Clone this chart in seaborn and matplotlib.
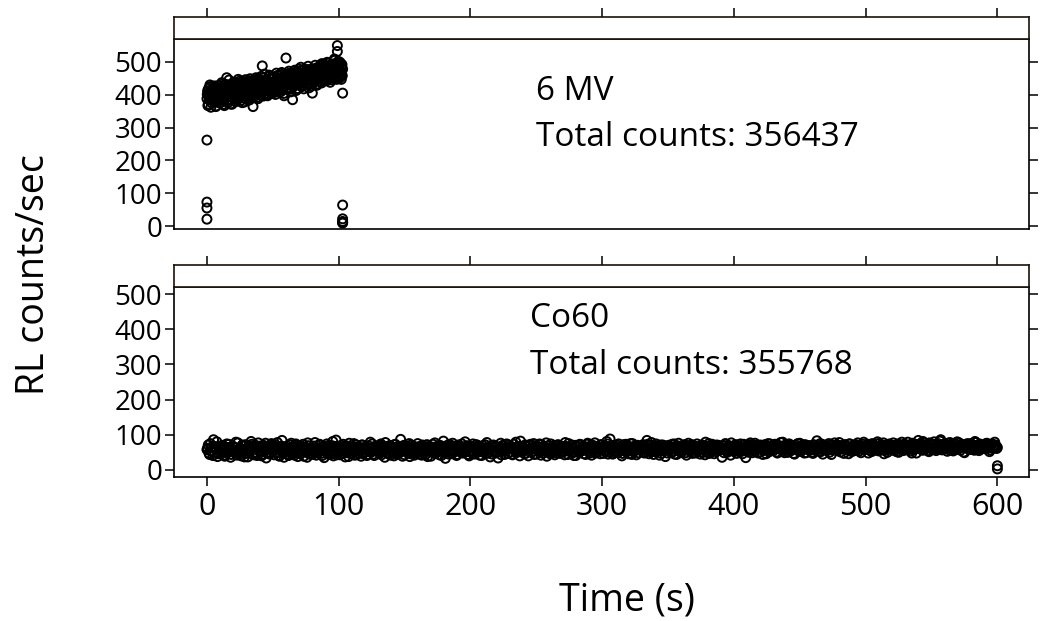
import numpy as np
import pandas as pd
import matplotlib
matplotlib.use("Agg")
import matplotlib.pyplot as plt
import seaborn as sns

# ---------------- data ----------------
DT = 0.5  # sampling interval (s) of each reading list

# 6 MV readings at t = 0, 0.5, 1.0, ...
rate_6mv = [
    388, 412, 371, 404, 396, 425, 362, 399, 417, 383,
    405, 378, 421, 394, 366, 410, 389, 428, 401, 375,
    396, 419, 384, 432, 407, 371, 398, 415, 388, 423,
    452, 394, 376, 411, 428, 402, 385, 419, 371, 436,
    405, 388, 427, 414, 379, 432, 399, 418, 391, 441,
    408, 426, 383, 413, 437, 396, 421, 378, 410, 429,
    402, 438, 415, 389, 426, 443, 407, 395, 431, 418,
    364, 412, 434, 401, 425, 447, 392, 419, 438, 406,
    421, 445, 398, 433, 488, 411, 427, 452, 403, 436,
    419, 441, 397, 428, 456, 412, 433, 405, 448, 424,
    437, 416, 452, 428, 401, 445, 431, 459, 414, 440,
    426, 451, 409, 438, 462, 421, 444, 397, 433, 456,
    512, 437, 421, 453, 442, 466, 418, 449, 431, 458,
    385, 444, 463, 428, 451, 437, 470, 419, 446, 459,
    441, 466, 427, 452, 474, 436, 459, 418, 448, 469,
    451, 432, 471, 445, 462, 421, 456, 478, 439, 464,
    405, 457, 473, 442, 466, 481, 448, 429, 469, 458,
    472, 447, 489, 458, 436, 476, 461, 493, 444, 468,
    459, 482, 443, 471, 496, 455, 476, 438, 487, 466,
    478, 452, 494, 469, 505, 461, 483, 447, 497, 472,
    488, 456, 499, 471, 447, 492, 478,
]
# 6 MV readings at t = 0.25, 0.75, 1.25, ...
rate_6mv_b = [
    401, 367, 419, 384, 430, 392, 409, 375, 414, 397,
    386, 427, 398, 364, 415, 403, 381, 422, 392, 411,
    413, 377, 437, 401, 389, 426, 367, 409, 432, 394,
    399, 422, 383, 445, 408, 372, 417, 430, 393, 412,
    424, 396, 381, 437, 409, 421, 386, 447, 403, 417,
    393, 433, 418, 376, 441, 405, 427, 389, 446, 412,
    426, 397, 433, 410, 384, 449, 418, 437, 402, 425,
    417, 441, 396, 428, 452, 409, 434, 388, 423, 446,
    434, 408, 456, 419, 441, 396, 429, 463, 414, 438,
    445, 422, 401, 437, 460, 418, 431, 450, 409, 439,
    428, 454, 407, 442, 419, 466, 433, 411, 448, 425,
    447, 414, 435, 468, 427, 452, 404, 441, 459, 430,
    438, 461, 415, 447, 472, 429, 453, 409, 444, 467,
    455, 426, 448, 475, 439, 413, 461, 446, 432, 478,
    462, 437, 484, 449, 425, 466, 453, 441, 479, 458,
    443, 469, 452, 487, 434, 461, 448, 473, 426, 465,
    476, 451, 438, 468, 490, 455, 471, 433, 462, 484,
    451, 479, 464, 440, 495, 457, 470, 448, 486, 462,
    475, 449, 499, 464, 481, 452, 470, 491, 446, 478,
    466, 488, 455, 509, 474, 449, 493, 481, 460, 502,
    470, 451, 495, 463, 485, 458,
]
extra_t_6mv = [0, 0, 0, 0, 99, 99, 103, 103, 103, 103, 103, 103]
extra_r_6mv = [262, 73, 55, 21, 550, 532, 405, 64, 22, 14, 11, 9]

# Co60 readings at t = 0, 1, 2, ...
rate_co60 = [
    58, 71, 44, 63, 52, 86, 49, 61, 38, 67,
    55, 47, 69, 60, 42, 74, 53, 64, 36, 58,
    66, 50, 79, 45, 57, 62, 40, 71, 54, 48,
    61, 37, 68, 56, 73, 46, 59, 65, 41, 77,
    52, 63, 44, 70, 55, 34, 67, 58, 49, 75,
    60, 43, 72, 51, 65, 39, 57, 84, 47, 62,
    54, 68, 41, 59, 76, 45, 63, 50, 70, 38,
    57, 66, 48, 73, 53, 61, 36, 69, 56, 44,
    64, 51, 78, 42, 60, 55, 71, 47, 67, 35,
    58, 74, 45, 63, 52, 69, 40, 61, 85, 49,
    56, 43, 70, 59, 65, 37, 62, 54, 76, 46,
    60, 67, 42, 72, 55, 48, 64, 39, 71, 57,
    50, 66, 44, 62, 79, 53, 59, 41, 68, 56,
    63, 47, 74, 51, 58, 36, 67, 61, 45, 70,
    54, 65, 40, 73, 57, 49, 62, 87, 52, 64,
    43, 69, 56, 60, 38, 71, 55, 66, 47, 59,
    75, 50, 63, 42, 68, 57, 44, 72, 53, 61,
    39, 65, 58, 77, 48, 62, 54, 70, 41, 66,
    56, 33, 64, 51, 73, 59, 46, 68, 55, 62,
    44, 71, 57, 49, 66, 60, 80, 52, 63, 40,
    67, 54, 74, 45, 61, 58, 69, 42, 65, 56,
    50, 72, 47, 63, 59, 37, 70, 55, 64, 48,
    66, 34, 60, 76, 53, 68, 44, 62, 57, 71,
    51, 65, 43, 73, 58, 49, 67, 61, 82, 54,
    63, 46, 70, 56, 40, 69, 59, 52, 75, 60,
    45, 66, 62, 53, 72, 48, 64, 57, 39, 68,
    58, 74, 50, 65, 43, 61, 70, 55, 47, 63,
    67, 52, 78, 59, 44, 64, 56, 71, 49, 60,
    41, 68, 57, 73, 54, 62, 46, 66, 58, 76,
    53, 64, 42, 70, 59, 48, 67, 61, 55, 72,
    62, 47, 69, 56, 74, 51, 88, 58, 45, 65,
    60, 71, 49, 63, 57, 40, 68, 54, 73, 59,
    46, 66, 61, 75, 52, 64, 43, 70, 58, 67,
    55, 72, 48, 62, 84, 57, 69, 51, 65, 44,
    61, 74, 53, 66, 59, 47, 71, 63, 38, 68,
    57, 64, 50, 73, 60, 45, 67, 56, 76, 62,
    49, 70, 58, 65, 42, 69, 61, 54, 72, 59,
    66, 48, 74, 57, 63, 51, 70, 60, 43, 67,
    58, 75, 52, 64, 69, 46, 62, 71, 55, 65,
    61, 36, 68, 57, 73, 50, 66, 59, 77, 54,
    63, 70, 47, 67, 58, 74, 53, 65, 60, 35,
    69, 56, 72, 62, 49, 66, 76, 58, 64, 51,
    71, 60, 44, 68, 63, 57, 75, 52, 67, 61,
    55, 73, 64, 48, 70, 59, 66, 79, 54, 62,
    68, 50, 74, 61, 57, 65, 45, 71, 63, 58,
    76, 53, 67, 60, 72, 49, 64, 69, 56, 62,
    47, 70, 61, 83, 58, 66, 52, 73, 63, 59,
    68, 55, 75, 62, 44, 69, 64, 57, 71, 60,
    78, 51, 66, 63, 72, 58, 67, 46, 74, 61,
    65, 70, 56, 62, 77, 53, 68, 60, 73, 64,
    59, 71, 48, 67, 63, 75, 57, 69, 62, 80,
    54, 66, 72, 60, 46, 70, 64, 58, 74, 65,
    61, 77, 55, 68, 63, 50, 71, 66, 59, 73,
    67, 57, 79, 62, 70, 48, 65, 74, 60, 69,
    84, 63, 71, 56, 68, 76, 61, 66, 52, 73,
    70, 64, 80, 59, 67, 75, 62, 86, 57, 69,
    65, 72, 53, 68, 78, 61, 70, 58, 74, 66,
    63, 77, 56, 71, 67, 49, 73, 64, 69, 60,
    75, 58, 68, 81, 62, 70, 55, 72, 66, 63,
    71, 60, 76, 65, 52, 69, 74, 62, 79, 67,
    64,
]
# Co60 readings at t = 0.5, 1.5, 2.5, ...
rate_co60_b = [
    62, 48, 75, 54, 41, 67, 59, 80, 46, 64,
    51, 70, 57, 39, 65, 49, 73, 60, 44, 68,
    56, 63, 42, 77, 52, 46, 69, 58, 37, 72,
    47, 64, 53, 81, 59, 43, 71, 50, 62, 55,
    68, 40, 60, 54, 76, 48, 63, 45, 70, 57,
    53, 66, 49, 78, 41, 59, 68, 52, 36, 65,
    61, 45, 72, 56, 50, 66, 42, 74, 58, 47,
    69, 52, 60, 39, 65, 57, 77, 46, 63, 54,
    45, 68, 55, 62, 48, 73, 58, 41, 66, 60,
    52, 63, 70, 44, 57, 81, 50, 67, 43, 59,
    66, 54, 47, 73, 61, 49, 68, 38, 62, 56,
    48, 75, 58, 43, 66, 60, 52, 71, 46, 64,
    63, 41, 69, 56, 50, 74, 45, 61, 57, 67,
    55, 70, 43, 64, 52, 78, 49, 59, 66, 42,
    61, 48, 72, 58, 44, 67, 55, 63, 39, 70,
    57, 64, 50, 75, 46, 60, 68, 42, 59, 53,
    66, 45, 58, 71, 49, 63, 56, 38, 67, 60,
    52, 73, 47, 61, 55, 69, 43, 64, 57, 82,
    49, 62, 70, 45, 58, 54, 76, 51, 65, 41,
    59, 67, 53, 74, 48, 62, 57, 69, 44, 63,
    55, 47, 66, 60, 72, 50, 64, 57, 41, 69,
    62, 53, 78, 48, 65, 59, 45, 71, 56, 66,
    50, 63, 57, 43, 70, 61, 55, 74, 47, 60,
    68, 45, 62, 56, 79, 52, 64, 40, 67, 58,
    54, 71, 48, 65, 59, 73, 51, 62, 44, 69,
    63, 56, 74, 42, 60, 67, 53, 77, 58, 50,
    46, 65, 59, 70, 55, 48, 72, 61, 66, 53,
    60, 43, 67, 57, 75, 62, 50, 64, 41, 70,
    65, 54, 49, 72, 60, 68, 56, 44, 73, 62,
    48, 69, 63, 55, 77, 51, 66, 58, 46, 71,
    57, 64, 52, 81, 45, 67, 60, 55, 70, 49,
    66, 53, 74, 58, 62, 47, 72, 64, 51, 68,
    59, 75, 44, 63, 56, 70, 61, 49, 67, 55,
    64, 50, 68, 59, 73, 46, 62, 78, 53, 66,
    52, 69, 57, 42, 71, 63, 55, 67, 60, 48,
    70, 58, 65, 51, 74, 62, 44, 68, 57, 63,
    55, 64, 72, 49, 60, 76, 53, 66, 47, 69,
    61, 54, 67, 59, 45, 71, 65, 56, 79, 50,
    68, 47, 63, 73, 57, 66, 52, 61, 70, 58,
    64, 59, 49, 75, 62, 55, 69, 42, 67, 60,
    57, 72, 61, 52, 68, 64, 46, 73, 59, 66,
    63, 50, 77, 58, 65, 54, 70, 61, 48, 69,
    59, 66, 55, 72, 46, 64, 60, 74, 57, 67,
    70, 62, 51, 68, 61, 78, 56, 65, 49, 72,
    58, 73, 64, 55, 69, 47, 66, 60, 75, 53,
    65, 59, 71, 48, 63, 70, 57, 67, 61, 50,
    72, 56, 64, 68, 53, 75, 60, 45, 69, 63,
    58, 66, 50, 73, 62, 57, 77, 64, 55, 70,
    61, 69, 59, 47, 71, 65, 56, 74, 63, 52,
    67, 55, 72, 64, 58, 68, 49, 66, 79, 60,
    64, 73, 57, 69, 52, 66, 71, 61, 56, 75,
    68, 59, 63, 77, 55, 65, 50, 72, 62, 67,
    57, 70, 64, 52, 74, 60, 68, 79, 55, 66,
    72, 63, 58, 67, 54, 76, 61, 69, 48, 71,
    66, 75, 60, 81, 57, 64, 70, 55, 77, 62,
    59, 73, 67, 55, 71, 63, 82, 58, 68, 74,
    70, 62, 76, 57, 66, 72, 54, 69, 63, 80,
    60, 68, 73, 64, 51, 70, 65, 75, 58, 67,
    72, 63, 56, 78, 66, 61, 74, 59, 69, 65,
    68, 75, 62, 70, 57, 73, 64, 66, 71, 61,
]
extra_t_co60 = [600, 600]
extra_r_co60 = [12, 3]

panel_labels = ["6 MV", "Co60"]
total_counts = [356437, 355768]
x_ticks = [0, 100, 200, 300, 400, 500, 600]
y_ticks = [0, 100, 200, 300, 400, 500]

df_6mv = pd.DataFrame({
    "time": np.concatenate([np.arange(len(rate_6mv)) * DT,
                            np.arange(len(rate_6mv_b)) * DT + DT / 2,
                            extra_t_6mv]),
    "rate": np.concatenate([rate_6mv, rate_6mv_b, extra_r_6mv]),
})
df_co60 = pd.DataFrame({
    "time": np.concatenate([np.arange(len(rate_co60)) * 2 * DT,
                            np.arange(len(rate_co60_b)) * 2 * DT + DT,
                            extra_t_co60]),
    "rate": np.concatenate([rate_co60, rate_co60_b, extra_r_co60]),
})

# ---------------- style ----------------
sns.set_style("white")
plt.rcParams["font.family"] = ["Open Sans", "DejaVu Sans"]
plt.rcParams["text.color"] = "black"
plt.rcParams["axes.labelcolor"] = "black"
plt.rcParams["axes.linewidth"] = 1.2

W, H = 1045, 621
fig = plt.figure(figsize=(W / 100, H / 100), dpi=100)

def frac(left, top, right, bottom):
    return [left / W, 1 - bottom / H, (right - left) / W, (bottom - top) / H]

panels = [
    dict(df=df_6mv, ylim=(-9, 570), rect=(174, 39, 1029, 229), strip=(174, 17, 1029, 39),
         text_x=250, text_y=(384, 244), bottom=False),
    dict(df=df_co60, ylim=(-20, 520), rect=(174, 287, 1029, 477), strip=(174, 265, 1029, 287),
         text_x=245, text_y=(406, 273), bottom=True),
]

XLIM = (-25, 624)
TICK_LEN = 6.5

for i, p in enumerate(panels):
    ax = fig.add_axes(frac(*p["rect"]))
    sns.scatterplot(data=p["df"], x="time", y="rate", ax=ax, marker="o",
                    facecolor="none", edgecolor="black", s=42, linewidth=1.4,
                    legend=False)
    ax.set_xlim(*XLIM)
    ax.set_ylim(*p["ylim"])
    ax.set_xticks(x_ticks)
    ax.set_yticks(y_ticks)
    ax.set_xlabel("")
    ax.set_ylabel("")
    for sp in ax.spines.values():
        sp.set_color("black")
        sp.set_linewidth(1.2)
    ax.tick_params(axis="y", which="both", left=True, right=True, labelleft=True,
                   labelright=False, direction="out", length=TICK_LEN, width=1.1,
                   labelsize=20, pad=2, colors="black")
    ax.tick_params(axis="x", which="both", top=False, bottom=p["bottom"],
                   labelbottom=p["bottom"], direction="out", length=TICK_LEN,
                   width=1.1, labelsize=22, pad=4, colors="black")
    ax.text(p["text_x"], p["text_y"][0], panel_labels[i], fontsize=24,
            ha="left", va="baseline")
    ax.text(p["text_x"], p["text_y"][1], f"Total counts: {total_counts[i]}",
            fontsize=24, ha="left", va="baseline")

    sax = fig.add_axes(frac(*p["strip"]))
    sax.set_xlim(*XLIM)
    sax.set_ylim(0, 1)
    sax.set_xticks(x_ticks)
    sax.set_yticks([])
    sax.tick_params(axis="x", top=True, bottom=False, labeltop=False,
                    labelbottom=False, direction="out", length=TICK_LEN, width=1.1,
                    colors="black")
    for sp in sax.spines.values():
        sp.set_color("#1a1208")
        sp.set_linewidth(1.2)

fig.text(34 / W, 1 - 275 / H, "RL counts/sec", rotation=90, fontsize=27,
         ha="center", va="center")
fig.text(627 / W, 1 - 600 / H, "Time (s)", fontsize=27, ha="center", va="center")

fig.savefig("out.png", dpi=100)
